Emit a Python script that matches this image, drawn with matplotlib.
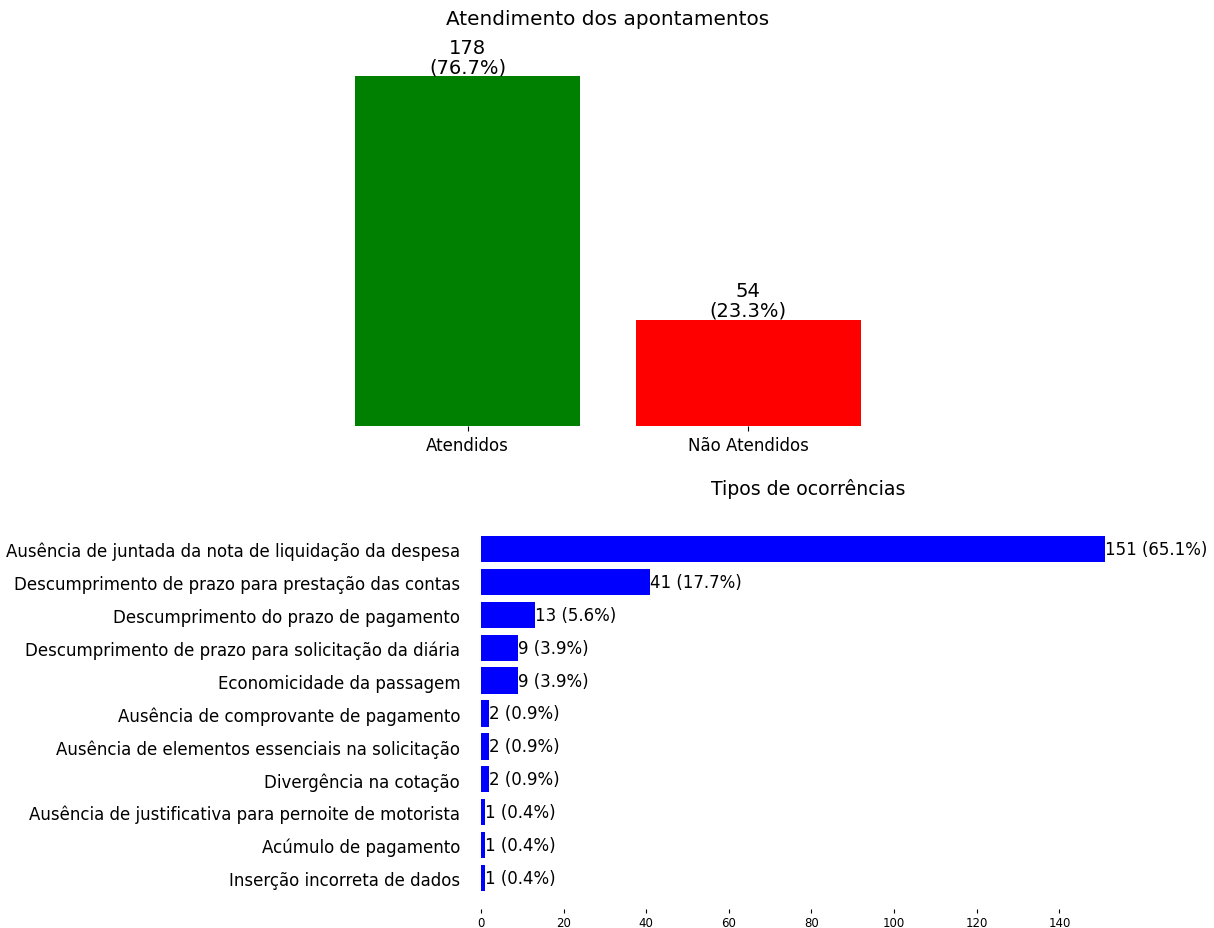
import matplotlib as mpl
mpl.use('Agg')
import matplotlib.pyplot as plt

# situação dos apontamentos
status = ['Atendidos', 'Não Atendidos']
status_counts = [178, 54]
status_colors = ['green', 'red']

# tipos de ocorrências (ordem do maior para o menor)
tipos = [
    'Ausência de juntada da nota de liquidação da despesa',
    'Descumprimento de prazo para prestação das contas',
    'Descumprimento do prazo de pagamento',
    'Descumprimento de prazo para solicitação da diária',
    'Economicidade da passagem',
    'Ausência de comprovante de pagamento',
    'Ausência de elementos essenciais na solicitação',
    'Divergência na cotação',
    'Ausência de justificativa para pernoite de motorista',
    'Acúmulo de pagamento',
    'Inserção incorreta de dados',
]
tipos_counts = [151, 41, 13, 9, 9, 2, 2, 2, 1, 1, 1]

fig = plt.figure(figsize=(12.14, 9.29), dpi=100)
W, H = 1214.0, 929.0

# grafico de cima
ax1 = fig.add_axes([330 / W, 1 - 427 / H, 556 / W, 367 / H])
total = sum(status_counts)
bars = ax1.bar(status, status_counts, color=status_colors, width=0.8)
for b, v in zip(bars, status_counts):
    ax1.text(b.get_x() + b.get_width() / 2, v, '%d\n(%.1f%%)' % (v, 100.0 * v / total),
             ha='center', va='bottom', fontsize=14, linespacing=1.05)
ax1.set_title('Atendimento dos apontamentos', fontsize=14.4, pad=25)
ax1.set_yticks([])
ax1.tick_params(axis='x', labelsize=12)
for s in ax1.spines.values():
    s.set_visible(False)

# grafico de baixo
ax2 = fig.add_axes([481 / W, 1 - 910 / H, 655 / W, 391 / H])
total2 = sum(tipos_counts)
y = list(range(len(tipos)))
ax2.barh(y, tipos_counts, color='blue', height=0.8)
for yi, v in zip(y, tipos_counts):
    ax2.text(v, yi, '%d (%.1f%%)' % (v, 100.0 * v / total2),
             ha='left', va='center', fontsize=12)
ax2.set_yticks(y)
ax2.set_yticklabels(tipos, fontsize=12)
ax2.invert_yaxis()
ax2.set_xticks(range(0, 160, 20))
ax2.tick_params(axis='x', labelsize=8.5, length=3, pad=2)
ax2.tick_params(axis='y', length=0, pad=15)
ax2.set_title('Tipos de ocorrências', fontsize=13.6, pad=17)
for s in ax2.spines.values():
    s.set_visible(False)

fig.savefig('out.png', dpi=100)
